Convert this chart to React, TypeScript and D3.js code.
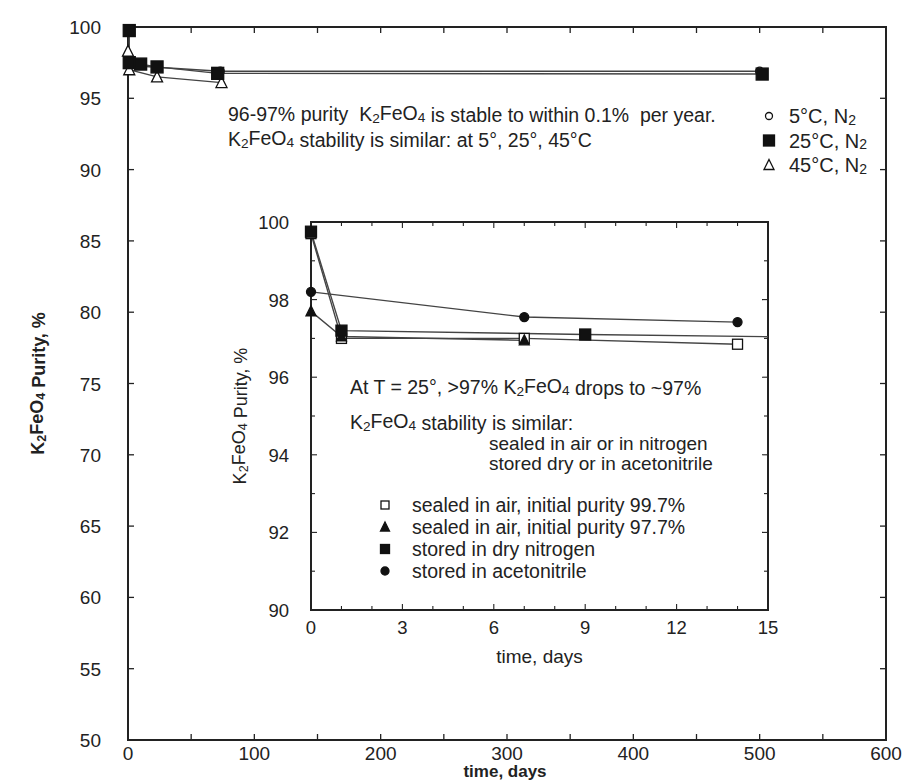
import React from "react";
import * as d3 from "d3";

// main plot: storage at different temperatures under N2
const days5C = [1, 73, 500];
const purity5C = [97.3, 96.9, 96.9];
const days25C = [1, 1, 10, 23, 71, 502];
const purity25C = [99.75, 97.5, 97.4, 97.2, 96.75, 96.7];
const days45C = [0, 1, 23, 74];
const purity45C = [98.3, 97.0, 96.5, 96.1];

// inset: first two weeks at 25 C
const airHighDays = [0, 1, 7, 14];
const airHighPurity = [99.7, 97.0, 97.0, 96.85];
const airLowDays = [0, 1, 7];
const airLowPurity = [97.7, 97.05, 96.95];
const nitrogenDays = [0, 1, 9, 73];
const nitrogenPurity = [99.75, 97.2, 97.1, 96.5];
const acetoDays = [0, 7, 14];
const acetoPurity = [98.2, 97.55, 97.42];

const mainXTicks = [0, 100, 200, 300, 400, 500, 600];
const mainYTicks = [50, 55, 60, 65, 70, 75, 80, 85, 90, 95, 100];
const insetXTicks = [0, 3, 6, 9, 12, 15];
const insetYTicks = [90, 92, 94, 96, 98, 100];

const FONT = "'Liberation Sans', Arial, Helvetica, sans-serif";
const INK = "#222";
const SP2 = "\u00a0 ";

type Shape = "circle" | "square" | "triangle";

function Marker({ x, y, shape, filled, size }: { x: number; y: number; shape: Shape; filled: boolean; size: number }) {
  const fill = filled ? "#111" : "#fff";
  const sw = 1.3;
  if (shape === "circle")
    return <circle cx={x} cy={y} r={size / 2} fill={fill} stroke="#111" strokeWidth={sw} />;
  if (shape === "square")
    return <rect x={x - size / 2} y={y - size / 2} width={size} height={size} fill={fill} stroke="#111" strokeWidth={sw} />;
  const h = size * 0.9;
  return (
    <path
      d={`M${x},${y - h / 2 - 1}L${x + size / 2},${y + h / 2}L${x - size / 2},${y + h / 2}Z`}
      fill={fill}
      stroke="#111"
      strokeWidth={sw}
    />
  );
}

function K2FeO4({ sub = 0.7 }: { sub?: number }) {
  return (
    <>
      K<tspan fontSize={`${sub}em`} dy="0.12em">2</tspan>
      <tspan dy="-0.12em">FeO</tspan>
      <tspan fontSize={`${sub}em`} dy="0.12em">4</tspan>
      <tspan dy="-0.12em"></tspan>
    </>
  );
}

function N2() {
  return (
    <>
      N<tspan fontSize="0.7em" dy="0.12em">2</tspan>
    </>
  );
}

export default function App() {
  const W = 906;
  const H = 781;

  // main plot frame
  const mL = 128, mR = 886, mT = 27, mB = 740;
  const x = d3.scaleLinear().domain([0, 600]).range([mL, mR]);
  const y = d3.scaleLinear().domain([50, 100]).range([mB, mT]);

  // inset frame
  const iL = 311, iR = 768, iT = 222, iB = 610;
  const ix = d3.scaleLinear().domain([0, 15]).range([iL, iR]);
  const iy = d3.scaleLinear().domain([90, 100]).range([iB, iT]);

  const mainLine = d3.line<[number, number]>().x((d) => x(d[0])).y((d) => y(d[1]));
  const insetLine = d3.line<[number, number]>().x((d) => ix(d[0])).y((d) => iy(d[1]));
  const zip = (a: number[], b: number[]) => a.map((v, i) => [v, b[i]] as [number, number]);

  const mainSeries = [
    { d: zip(days5C, purity5C), shape: "circle" as Shape, filled: false, size: 8 },
    { d: zip(days45C, purity45C), shape: "triangle" as Shape, filled: false, size: 11 },
    { d: zip(days25C, purity25C), shape: "square" as Shape, filled: true, size: 12 },
  ];
  const insetSeries = [
    { d: zip(airHighDays, airHighPurity), shape: "square" as Shape, filled: false, size: 10 },
    { d: zip(acetoDays, acetoPurity), shape: "circle" as Shape, filled: true, size: 9 },
    { d: zip(airLowDays, airLowPurity), shape: "triangle" as Shape, filled: true, size: 10 },
    { d: zip(nitrogenDays, nitrogenPurity), shape: "square" as Shape, filled: true, size: 11 },
  ];

  const mainXMinor = d3.range(0, 601, 50);
  const mainYMinor = d3.range(50, 100.1, 5);
  const insetXMinor = d3.range(0, 15.1, 1);
  const insetYMinor = d3.range(90, 100.1, 1);

  const mainLegend = [
    { label: "5°C, ", shape: "circle" as Shape, filled: false, size: 7 },
    { label: "25°C, ", shape: "square" as Shape, filled: true, size: 11 },
    { label: "45°C, ", shape: "triangle" as Shape, filled: false, size: 10 },
  ];
  const insetLegend = [
    { label: "sealed in air, initial purity 99.7%", shape: "square" as Shape, filled: false, size: 8 },
    { label: "sealed in air, initial purity 97.7%", shape: "triangle" as Shape, filled: true, size: 9 },
    { label: "stored in dry nitrogen", shape: "square" as Shape, filled: true, size: 9 },
    { label: "stored in acetonitrile", shape: "circle" as Shape, filled: true, size: 8 },
  ];

  return (
    <div style={{ position: "absolute", left: 0, top: 0 }}>
      <svg width={W} height={H} style={{ display: "block", background: "#fff" }} fontFamily={FONT}>
        <defs>
          <clipPath id="mainClip">
            <rect x={mL} y={mT} width={mR - mL} height={mB - mT} />
          </clipPath>
          <clipPath id="insetClip">
            <rect x={iL} y={iT} width={iR - iL} height={iB - iT} />
          </clipPath>
        </defs>

        {/* main ticks, mirrored on all sides */}
        <g stroke={INK} strokeWidth={1.3}>
          {mainXMinor.map((t) => (
            <g key={`mx${t}`}>
              <line x1={x(t)} x2={x(t)} y1={mB} y2={mB - 6} />
              <line x1={x(t)} x2={x(t)} y1={mT} y2={mT + 6} />
            </g>
          ))}
          {mainYMinor.map((t) => (
            <g key={`my${t}`}>
              <line x1={mL} x2={mL + 6} y1={y(t)} y2={y(t)} />
              <line x1={mR} x2={mR - 6} y1={y(t)} y2={y(t)} />
            </g>
          ))}
        </g>
        <rect x={mL} y={mT} width={mR - mL} height={mB - mT} fill="none" stroke={INK} strokeWidth={2} />

        <g fill={INK} fontSize={19}>
          {mainXTicks.map((t) => (
            <text key={t} x={x(t)} y={mB + 20} textAnchor="middle">{t}</text>
          ))}
          {mainYTicks.map((t) => (
            <text key={t} x={mL - 27} y={y(t) + 7} textAnchor="end">{t}</text>
          ))}
        </g>
        <text x={(mL + mR) / 2 - 2} y={777} textAnchor="middle" fontSize={17} fontWeight="bold" fill={INK}>
          time, days
        </text>
        <text
          transform={`translate(44,${(mT + mB) / 2}) rotate(-90)`}
          textAnchor="middle"
          fontSize={18}
          fontWeight="bold"
          fill={INK}
        >
          <K2FeO4 /> Purity, %
        </text>

        {/* main series */}
        <g clipPath="url(#mainClip)">
          {mainSeries.map((s, i) => (
            <path key={i} d={mainLine(s.d) ?? ""} fill="none" stroke="#444" strokeWidth={1.4} />
          ))}
        </g>
        {mainSeries.map((s, i) => (
          <g key={i}>
            {s.d.map((p, j) => (
              <Marker key={j} x={x(p[0])} y={y(p[1])} shape={s.shape} filled={s.filled} size={s.size} />
            ))}
          </g>
        ))}

        {/* main annotations */}
        <g fill={INK} fontSize={19.5}>
          <text x={228} y={121}>
            {`96-97% purity${SP2}`}<K2FeO4 />{` is stable to within 0.1%${SP2}per year.`}
          </text>
          <text x={228} y={146}>
            <K2FeO4 /> stability is similar: at 5°, 25°, 45°C
          </text>
        </g>

        {/* main legend */}
        {mainLegend.map((e, i) => (
          <g key={i}>
            <Marker x={769} y={116 + i * 24.5} shape={e.shape} filled={e.filled} size={e.size} />
            <text x={789} y={123 + i * 24.5} fontSize={20} fill={INK}>
              {e.label}
              <N2 />
            </text>
          </g>
        ))}

        {/* inset */}
        <rect x={iL} y={iT} width={iR - iL} height={iB - iT} fill="#fff" />
        <g stroke={INK} strokeWidth={1.1}>
          {insetXMinor.map((t) => (
            <g key={`ix${t}`}>
              <line x1={ix(t)} x2={ix(t)} y1={iB} y2={iB - (t % 3 === 0 ? 6 : 4)} />
              <line x1={ix(t)} x2={ix(t)} y1={iT} y2={iT + (t % 3 === 0 ? 6 : 4)} />
            </g>
          ))}
          {insetYMinor.map((t) => (
            <g key={`iy${t}`}>
              <line x1={iL} x2={iL + (t % 2 === 0 ? 6 : 4)} y1={iy(t)} y2={iy(t)} />
              <line x1={iR} x2={iR - (t % 2 === 0 ? 6 : 4)} y1={iy(t)} y2={iy(t)} />
            </g>
          ))}
        </g>
        <rect x={iL} y={iT} width={iR - iL} height={iB - iT} fill="none" stroke={INK} strokeWidth={2} />

        <g fill={INK} fontSize={18.5}>
          {insetXTicks.map((t) => (
            <text key={t} x={ix(t)} y={iB + 24} textAnchor="middle">{t}</text>
          ))}
          {insetYTicks.map((t) => (
            <text key={t} x={iL - 22} y={iy(t) + 7} textAnchor="end">{t}</text>
          ))}
        </g>
        <text x={(iL + iR) / 2} y={iB + 53} textAnchor="middle" fontSize={19} fill={INK}>
          time, days
        </text>
        <text
          transform={`translate(246,${(iT + iB) / 2}) rotate(-90)`}
          textAnchor="middle"
          fontSize={18}
          fill={INK}
        >
          <K2FeO4 /> Purity, %
        </text>

        <g clipPath="url(#insetClip)">
          {insetSeries.map((s, i) => (
            <path key={i} d={insetLine(s.d) ?? ""} fill="none" stroke="#444" strokeWidth={1.4} />
          ))}
        </g>
        {insetSeries.map((s, i) => (
          <g key={i}>
            {s.d
              .filter((p) => p[0] <= 15)
              .map((p, j) => (
                <Marker key={j} x={ix(p[0])} y={iy(p[1])} shape={s.shape} filled={s.filled} size={s.size} />
              ))}
          </g>
        ))}

        <g fill={INK} fontSize={19.5}>
          <text x={350} y={394}>
            At T = 25°, &gt;97% <K2FeO4 /> drops to ~97%
          </text>
          <text x={350} y={429}>
            <K2FeO4 /> stability is similar:
          </text>
          <text x={489} y={450} fontSize={19}>sealed in air or in nitrogen</text>
          <text x={489} y={470} fontSize={19}>stored dry or in acetonitrile</text>
        </g>

        {insetLegend.map((e, i) => (
          <g key={i}>
            <Marker x={385} y={505 + i * 22} shape={e.shape} filled={e.filled} size={e.size} />
            <text x={412} y={512 + i * 22} fontSize={19.5} fill={INK}>
              {e.label}
            </text>
          </g>
        ))}
      </svg>
    </div>
  );
}
